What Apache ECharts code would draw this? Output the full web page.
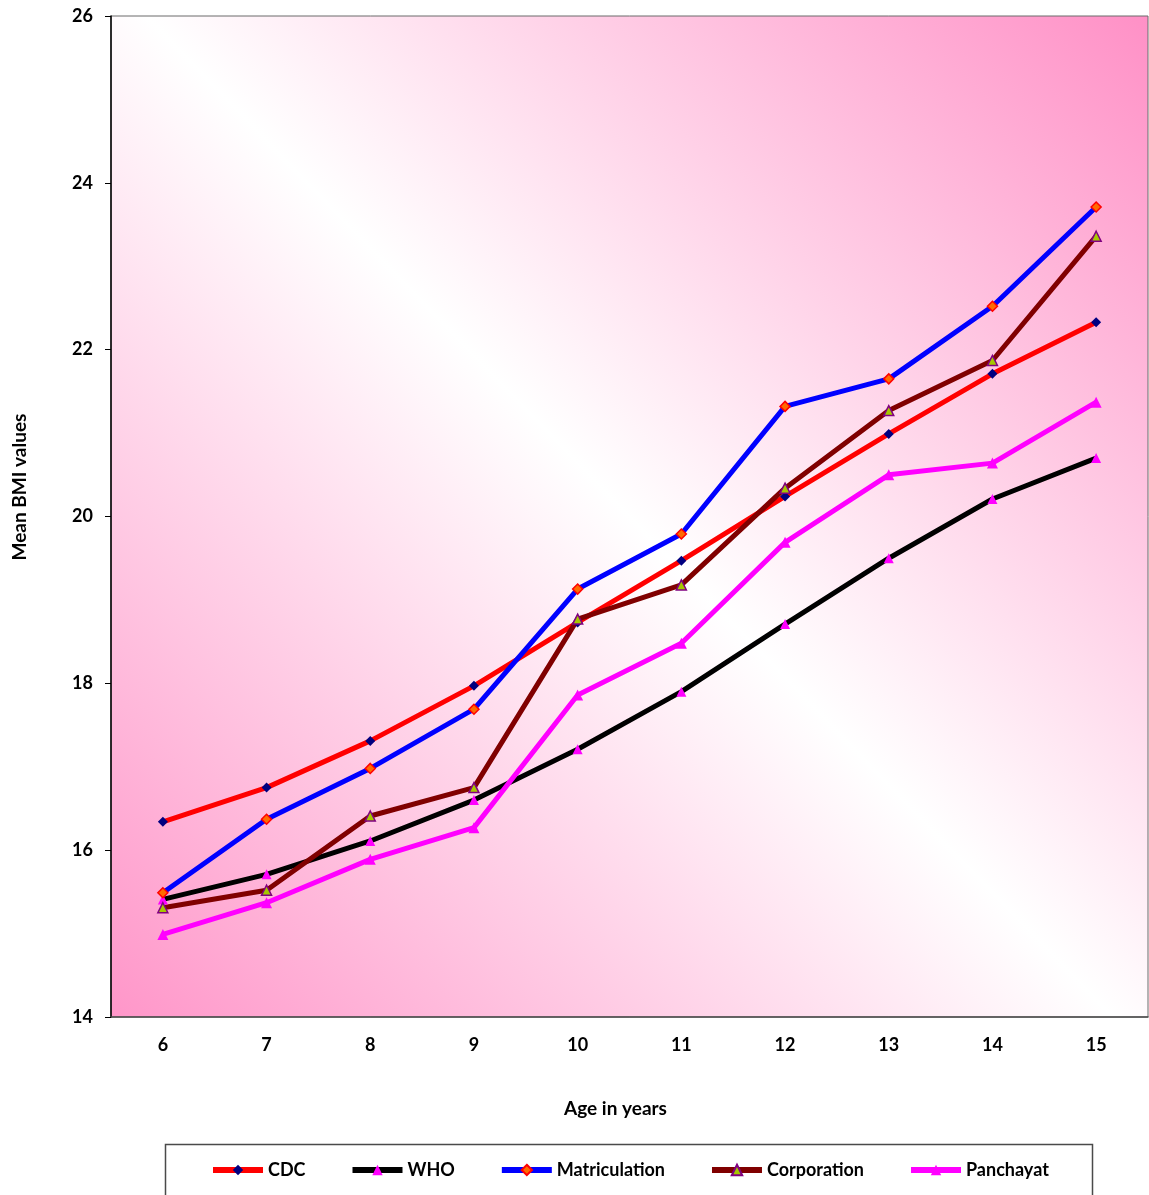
<!DOCTYPE html>
<html>
<head>
<meta charset="utf-8">
<script src="https://cdn.jsdelivr.net/npm/echarts@6/dist/echarts.min.js"></script>
<style>
  html, body { margin: 0; padding: 0; background: #ffffff; }
  #chart { width: 1149px; height: 1195px; }
</style>
</head>
<body>
<div id="chart"></div>
<script>
// Mean BMI by age: reference standards and study groups
const ages = ['6', '7', '8', '9', '10', '11', '12', '13', '14', '15'];
const cdc = [16.34, 16.75, 17.31, 17.97, 18.73, 19.47, 20.24, 20.99, 21.71, 22.33];
const who = [15.41, 15.71, 16.11, 16.60, 17.21, 17.90, 18.71, 19.50, 20.21, 20.70];
const matriculation = [15.49, 16.37, 16.98, 17.69, 19.13, 19.79, 21.32, 21.65, 22.52, 23.71];
const corporation = [15.31, 15.52, 16.41, 16.75, 18.77, 19.18, 20.34, 21.27, 21.87, 23.36];
const panchayat = [14.99, 15.37, 15.89, 16.27, 17.86, 18.48, 19.69, 20.50, 20.64, 21.37];
const yTicks = { min: 14, max: 26, step: 2 };

const FONT = 'Lato, "Open Sans", sans-serif';

const chart = echarts.init(document.getElementById('chart'), null, { renderer: 'canvas' });

function lineSeries(name, data, lineColor, symbol, fill, border, size) {
  return {
    name: name,
    type: 'line',
    data: data,
    symbol: symbol,
    symbolSize: size,
    showAllSymbol: true,
    lineStyle: { color: lineColor, width: 5 },
    itemStyle: { color: fill, borderColor: border, borderWidth: border === fill ? 0 : 1.5 },
    emphasis: { disabled: true },
    z: 3
  };
}

const option = {
  animation: false,
  backgroundColor: '#ffffff',
  grid: {
    left: 111, right: 1, top: 16, bottom: 178,
    show: true,
    borderColor: '#6b6b6b',
    borderWidth: 1,
    backgroundColor: new echarts.graphic.LinearGradient(0, 1, 1, 0, [
      { offset: 0, color: '#ff96c9' },
      { offset: 0.5, color: '#ffffff' },
      { offset: 1, color: '#ff90c6' }
    ])
  },
  legend: {
    left: 205, top: 1156,
    itemWidth: 50, itemHeight: 13, itemGap: 44,
    lineStyle: { width: 6 },
    textStyle: { fontFamily: FONT, fontWeight: 'bold', fontSize: 18, color: '#000' },
    data: ['CDC', 'WHO', 'Matriculation', 'Corporation', 'Panchayat']
  },
  graphic: [{
    type: 'rect',
    shape: { x: 165.5, y: 1144.5, width: 927, height: 60 },
    style: { fill: 'none', stroke: '#4a4a4a', lineWidth: 1.5 },
    silent: true
  }, {
    type: 'text',
    x: 20, y: 487,
    rotation: Math.PI / 2,
    style: {
      text: 'Mean BMI values',
      fontFamily: FONT, fontWeight: 'bold', fontSize: 19, fill: '#000',
      align: 'center', verticalAlign: 'middle'
    },
    silent: true
  }],
  xAxis: {
    type: 'category',
    data: ages,
    boundaryGap: true,
    name: 'Age in years',
    nameLocation: 'middle',
    nameGap: 82,
    nameTextStyle: { fontFamily: FONT, fontWeight: 'bold', fontSize: 19, color: '#000', padding: [0, 28, 0, 0] },
    axisLine: { lineStyle: { color: '#4a4a4a', width: 1.5 } },
    axisTick: { alignWithLabel: false, length: 6, lineStyle: { color: '#000' } },
    axisLabel: { fontFamily: FONT, fontWeight: 'bold', fontSize: 18, color: '#000', margin: 19 },
    splitLine: { show: false }
  },
  yAxis: {
    type: 'value',
    min: yTicks.min, max: yTicks.max, interval: yTicks.step,
    axisLine: { show: true, lineStyle: { color: '#000', width: 1.5 } },
    axisTick: { show: true, length: 6, lineStyle: { color: '#000' } },
    axisLabel: { fontFamily: FONT, fontWeight: 'bold', fontSize: 18, color: '#000', margin: 18 },
    splitLine: { show: false }
  },
  series: [
    lineSeries('CDC', cdc, '#ff0000', 'diamond', '#000080', '#000080', 10),
    lineSeries('WHO', who, '#000000', 'triangle', '#ff00ff', '#ff00ff', 10),
    lineSeries('Matriculation', matriculation, '#0000ff', 'diamond', '#ff6a00', '#ff0000', 10),
    lineSeries('Corporation', corporation, '#800000', 'triangle', '#a6c800', '#800080', 10),
    lineSeries('Panchayat', panchayat, '#ff00ff', 'triangle', '#ff00ff', '#ff00ff', 11)
  ]
};

chart.setOption(option);
</script>
</body>
</html>
